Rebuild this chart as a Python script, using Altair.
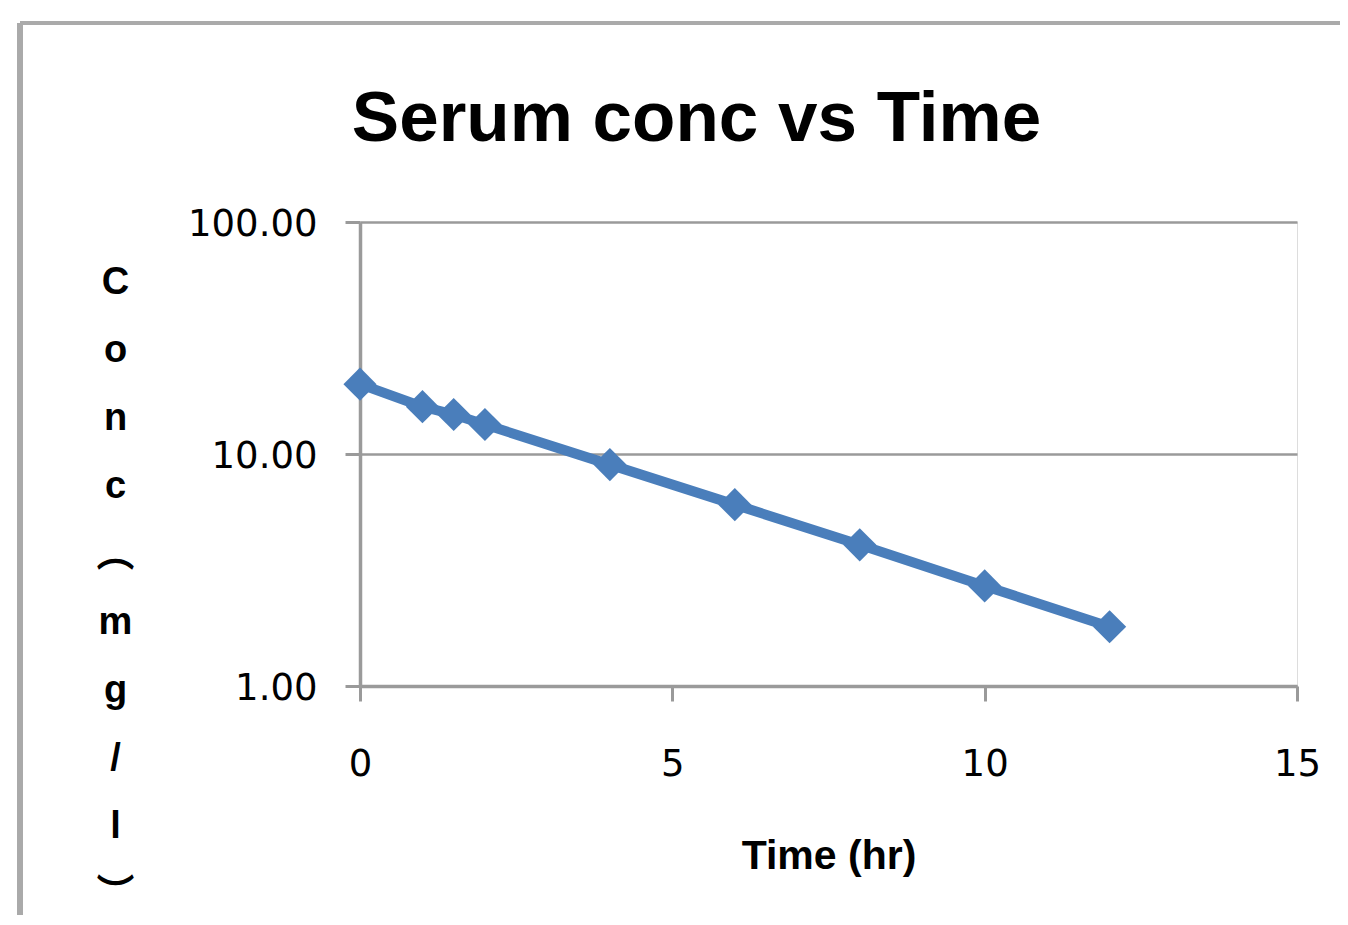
import altair as alt
import pandas as pd

time_hr = [0, 1, 1.5, 2, 4, 6, 8, 10, 12]
conc_mg_l = [20.0, 16.0, 14.8, 13.4, 9.0, 6.05, 4.06, 2.70, 1.80]
x_ticks = [0, 5, 10, 15]
y_ticks = [1, 10, 100]
y_title_lines = ["C", "o", "n", "c", "︵", "m", "g", "/", "l", "︶"]
chart_title = "Serum conc vs Time"

df = pd.DataFrame({"time": time_hr, "conc": conc_mg_l})

BLUE = "#4A7EBB"
GRAY = "#9a9a9a"
TICK_FONT = "DejaVu Sans"
BOLD_FONT = "Liberation Sans, Noto Sans CJK SC"

x_scale = alt.Scale(domain=[0, 15], nice=False, zero=False)
y_scale = alt.Scale(type="log", domain=[1, 100], nice=False)

x_enc = alt.X(
    "time:Q",
    scale=x_scale,
    axis=alt.Axis(
        values=x_ticks,
        format="d",
        title="Time (hr)",
        grid=False,
        labelFlush=False,
        domainColor=GRAY, domainWidth=3.5,
        tickColor=GRAY, tickWidth=3, tickSize=15,
        labelFont=TICK_FONT, labelFontSize=37, labelColor="#000",
        labelPadding=45,
        titleFont=BOLD_FONT, titleFontSize=41, titleFontWeight="bold",
        titleColor="#000", titleY=182, titleBaseline="alphabetic",
    ),
)
y_enc = alt.Y(
    "conc:Q",
    scale=y_scale,
    axis=alt.Axis(
        values=y_ticks,
        format=".2f",
        title=y_title_lines,
        grid=True, gridColor=GRAY, gridWidth=2.5,
        domainColor=GRAY, domainWidth=3.5,
        tickColor=GRAY, tickWidth=3, tickSize=15,
        labelFont=TICK_FONT, labelFontSize=37, labelColor="#000",
        labelPadding=28, labelOffset=2,
        titleFont=BOLD_FONT, titleFontSize=38, titleFontWeight="bold",
        titleColor="#000", titleAngle=0, titleAlign="center",
        titleBaseline="alphabetic", titleX=-245, titleY=71,
        titleLineHeight=68,
    ),
)

# top axis used only to carry the chart title
x_top = alt.X(
    "time:Q",
    scale=x_scale,
    axis=alt.Axis(
        orient="top", labels=False, ticks=False, domain=False, grid=False,
        title=chart_title,
        titleFont="Liberation Sans", titleFontSize=71, titleFontWeight="bold",
        titleColor="#000", titleAlign="center", titleBaseline="alphabetic",
        titleX=336, titleY=-82,
    ),
)

base = alt.Chart(df)
line = base.mark_line(color=BLUE, strokeWidth=10).encode(x=x_enc, y=y_enc)
pts = base.mark_point(shape="diamond", size=1100, filled=True, opacity=1,
                      color=BLUE).encode(x=x_top, y="conc:Q")

one = alt.Data(values=[{}])
frame_top = alt.Chart(one).mark_rule(color="#aaaaaa", strokeWidth=4).encode(
    x=alt.value(-340), x2=alt.value(1100), y=alt.value(-199))
frame_left = alt.Chart(one).mark_rule(color="#aaaaaa", strokeWidth=6).encode(
    x=alt.value(-340), y=alt.value(-199), y2=alt.value(800))

chart = alt.layer(frame_top, frame_left, line, pts).resolve_axis(
    x="independent"
).properties(
    width=937,
    height=464,
    autosize=alt.AutoSizeParams(type="none"),
    padding={"left": 352, "top": 214, "right": 43, "bottom": 229},
).configure_view(stroke=None).configure(background="white")

chart.save("out.html", embed_options={"renderer": "svg", "actions": False})
